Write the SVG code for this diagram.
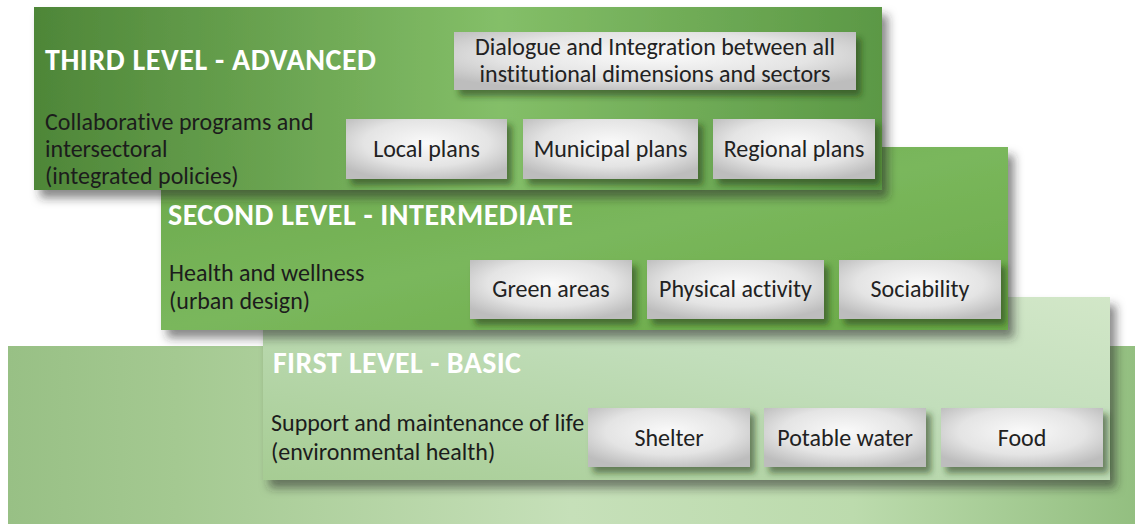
<svg xmlns="http://www.w3.org/2000/svg" width="1135" height="524" viewBox="0 0 1135 524">
<defs>
<style>
text{font-variant-ligatures:none}
.t{font-family:Carlito,Lato,"Liberation Sans",sans-serif;font-weight:bold;font-size:30px;fill:#ffffff}
.d{font-family:Carlito,Lato,"Liberation Sans",sans-serif;font-size:24px;fill:#1c1c1c}
.b{font-family:Carlito,Lato,"Liberation Sans",sans-serif;font-size:24px;fill:#222222;text-anchor:middle}
.box{fill:url(#gBox);filter:url(#sBox)}
</style>
<linearGradient id="gBand" x1="0" y1="0" x2="1" y2="0">
<stop offset="0" stop-color="#98c085"/>
<stop offset="0.15" stop-color="#a4c991"/>
<stop offset="0.5" stop-color="#c6e0b9"/>
<stop offset="0.75" stop-color="#bcdbad"/>
<stop offset="1" stop-color="#93bf80"/>
</linearGradient>
<linearGradient id="gFirst" x1="0" y1="1" x2="1" y2="0">
<stop offset="0" stop-color="#a6cc93"/>
<stop offset="0.6" stop-color="#c2debb"/>
<stop offset="1" stop-color="#d2e7c8"/>
</linearGradient>
<linearGradient id="gSecond" x1="0" y1="0" x2="1" y2="1">
<stop offset="0" stop-color="#6aa84a"/>
<stop offset="0.5" stop-color="#7ab75c"/>
<stop offset="1" stop-color="#6aaa47"/>
</linearGradient>
<linearGradient id="gThird" x1="0" y1="0" x2="1" y2="0">
<stop offset="0" stop-color="#4e8638"/>
<stop offset="0.55" stop-color="#84bf68"/>
<stop offset="1" stop-color="#5b9845"/>
</linearGradient>
<radialGradient id="gBox" cx="0.5" cy="0.4" r="0.65">
<stop offset="0" stop-color="#fafafa"/>
<stop offset="0.6" stop-color="#e4e4e4"/>
<stop offset="1" stop-color="#bdbdbd"/>
</radialGradient>
<filter id="sLevel" x="-10%" y="-10%" width="125%" height="130%">
<feDropShadow dx="6" dy="8" stdDeviation="5" flood-color="#2a2a2a" flood-opacity="0.55"/>
</filter>
<filter id="sBox" x="-10%" y="-20%" width="125%" height="150%">
<feDropShadow dx="5" dy="6" stdDeviation="3" flood-color="#1a360e" flood-opacity="0.55"/>
</filter>
</defs>
<rect x="0" y="0" width="1135" height="524" fill="#ffffff"/>
<rect id="band" x="8" y="346" width="1127" height="178" fill="url(#gBand)"/>

<g id="first-level">
<rect x="263" y="297" width="847" height="183" fill="url(#gFirst)" filter="url(#sLevel)"/>
<text class="t" x="273" y="373" textLength="248">FIRST LEVEL - BASIC</text>
<text class="d" x="271" y="431">Support and maintenance of life</text>
<text class="d" x="271" y="460">(environmental health)</text>
</g>
<g id="shelter"><rect class="box" x="588" y="408" width="162" height="59"/><text class="b" x="669" y="446">Shelter</text></g>
<g id="potable-water"><rect class="box" x="764" y="408" width="162" height="59"/><text class="b" x="845" y="446">Potable water</text></g>
<g id="food"><rect class="box" x="941" y="408" width="162" height="59"/><text class="b" x="1022" y="446">Food</text></g>

<g id="second-level">
<rect x="161" y="147" width="847" height="183" fill="url(#gSecond)" filter="url(#sLevel)"/>
<text class="t" x="168" y="225" textLength="405">SECOND LEVEL - INTERMEDIATE</text>
<text class="d" x="169" y="281">Health and wellness</text>
<text class="d" x="169" y="309">(urban design)</text>
</g>
<g id="green-areas"><rect class="box" x="470" y="260" width="162" height="59"/><text class="b" x="551" y="297">Green areas</text></g>
<g id="physical-activity"><rect class="box" x="647" y="260" width="177" height="59"/><text class="b" x="735.5" y="297">Physical activity</text></g>
<g id="sociability"><rect class="box" x="839" y="260" width="162" height="59"/><text class="b" x="920" y="297">Sociability</text></g>

<g id="third-level">
<rect x="34" y="7" width="848" height="183" fill="url(#gThird)" filter="url(#sLevel)"/>
<text class="t" x="45" y="70" textLength="331">THIRD LEVEL - ADVANCED</text>
<text class="d" x="45" y="130">Collaborative programs and</text>
<text class="d" x="45" y="157">intersectoral</text>
<text class="d" x="45" y="184">(integrated policies)</text>
</g>
<g id="dialogue"><rect class="box" x="454" y="32" width="402" height="58"/><text class="b" x="655" y="55">Dialogue and Integration between all</text><text class="b" x="655" y="82">institutional dimensions and sectors</text></g>
<g id="local-plans"><rect class="box" x="346" y="119" width="161" height="60"/><text class="b" x="426.5" y="157">Local plans</text></g>
<g id="municipal-plans"><rect class="box" x="523" y="119" width="175" height="60"/><text class="b" x="610.5" y="157">Municipal plans</text></g>
<g id="regional-plans"><rect class="box" x="713" y="119" width="162" height="60"/><text class="b" x="794" y="157">Regional plans</text></g>

<g id="connectors"></g>
</svg>
